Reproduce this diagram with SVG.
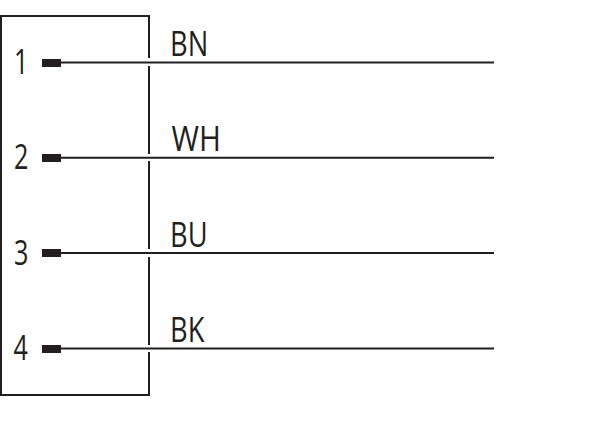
<svg xmlns="http://www.w3.org/2000/svg" width="600" height="436" viewBox="0 0 600 436">
<style>
.t{font-family:"Open Sans","Liberation Sans",sans-serif;font-size:35px;fill:#231f20}
.w{stroke:#231f20;stroke-width:2;fill:none}
.p{fill:#231f20}
</style>
<rect width="600" height="436" fill="#fff"/>
<g id="housing"><path class="w" d="M149 58V16H1V395H149V352M149 66V154M149 161V249M149 257V345"/></g>
<g id="connectors">
<path class="w" d="M60 62.500H494M60 157.800H494M60 253H494M60 348.500H494"/>
</g>
<g id="pin1"><rect class="p" x="42" y="59" width="19" height="8"/><text class="t" transform="translate(14 74) scale(.72 1)">1</text><text class="t" transform="translate(170 56) scale(.78 1)">BN</text></g>
<g id="pin2"><rect class="p" x="42" y="154" width="19" height="8"/><text class="t" transform="translate(14 169) scale(.72 1)">2</text><text class="t" transform="translate(171.500 151) scale(.85 1)">WH</text></g>
<g id="pin3"><rect class="p" x="42" y="249" width="19" height="8"/><text class="t" transform="translate(14 265) scale(.72 1)">3</text><text class="t" transform="translate(170 247) scale(.78 1)">BU</text></g>
<g id="pin4"><rect class="p" x="42" y="345" width="19" height="8"/><text class="t" transform="translate(13.500 360) scale(.72 1)">4</text><text class="t" transform="translate(170 342) scale(.78 1)">BK</text></g>
</svg>
